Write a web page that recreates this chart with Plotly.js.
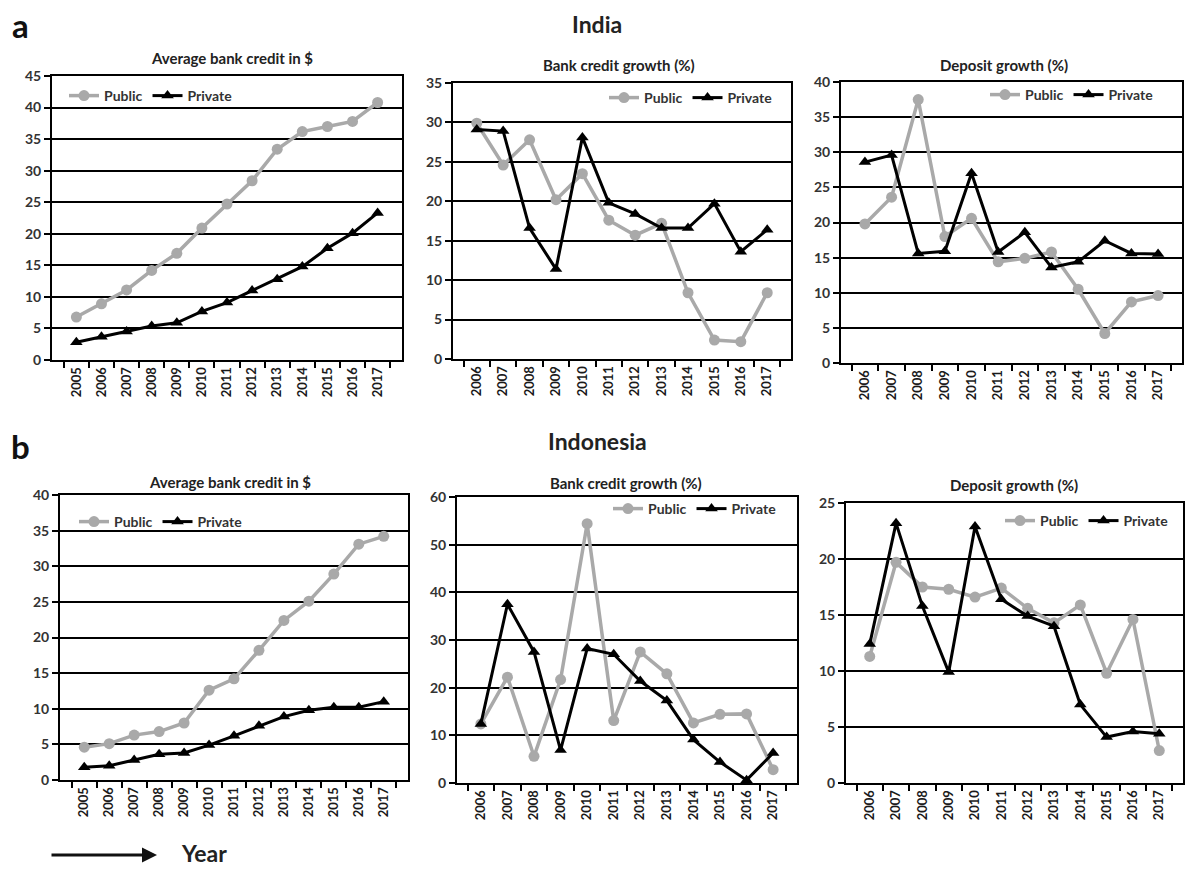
<!DOCTYPE html>
<html>
<head>
<meta charset="utf-8">
<script src="https://cdn.plot.ly/plotly-3.0.1.min.js"></script>
<style>html,body{margin:0;padding:0;background:#fff;}#chart{width:1185px;height:870px;}</style>
</head>
<body>
<div id="chart"></div>
<script>
// ---- Data ----
var yearsA = ['2005','2006','2007','2008','2009','2010','2011','2012','2013','2014','2015','2016','2017'];
var yearsB = ['2006','2007','2008','2009','2010','2011','2012','2013','2014','2015','2016','2017'];

// India
var indiaCreditPublic  = [6.8, 8.9, 11.1, 14.2, 16.9, 20.9, 24.7, 28.4, 33.4, 36.2, 37.0, 37.8, 40.8];
var indiaCreditPrivate = [2.8, 3.7, 4.5, 5.4, 5.9, 7.7, 9.1, 11.0, 12.8, 14.8, 17.7, 20.1, 23.3];
var indiaGrowthPublic  = [29.9, 24.6, 27.8, 20.2, 23.5, 17.6, 15.7, 17.2, 8.4, 2.4, 2.2, 8.4];
var indiaGrowthPrivate = [29.1, 28.9, 16.6, 11.4, 28.1, 19.8, 18.4, 16.6, 16.6, 19.7, 13.6, 16.4];
var indiaDepositPublic  = [19.8, 23.6, 37.5, 18.0, 20.6, 14.4, 14.9, 15.8, 10.5, 4.2, 8.7, 9.6];
var indiaDepositPrivate = [28.6, 29.6, 15.6, 15.9, 27.0, 15.8, 18.6, 13.6, 14.4, 17.4, 15.6, 15.5];

// Indonesia
var indoCreditPublic  = [4.6, 5.1, 6.3, 6.8, 8.0, 12.6, 14.2, 18.2, 22.4, 25.1, 28.9, 33.1, 34.2];
var indoCreditPrivate = [1.8, 2.0, 2.8, 3.6, 3.8, 4.9, 6.2, 7.6, 8.9, 9.8, 10.2, 10.2, 11.0];
var indoGrowthPublic  = [12.4, 22.2, 5.6, 21.7, 54.4, 13.1, 27.5, 22.9, 12.6, 14.4, 14.5, 2.8];
var indoGrowthPrivate = [12.4, 37.5, 27.5, 6.9, 28.2, 27.0, 21.4, 17.3, 9.1, 4.4, 0.6, 6.3];
var indoDepositPublic  = [11.3, 19.7, 17.5, 17.3, 16.6, 17.4, 15.6, 14.3, 15.9, 9.8, 14.6, 2.9];
var indoDepositPrivate = [12.4, 23.2, 15.8, 9.9, 22.9, 16.4, 14.9, 14.0, 7.0, 4.1, 4.6, 4.4];

var panelTitles = ['Average bank credit in $', 'Bank credit growth (%)', 'Deposit growth (%)',
                   'Average bank credit in $', 'Bank credit growth (%)', 'Deposit growth (%)'];
var seriesNames = ['Public', 'Private'];

// ---- Layout helpers ----
var W = 1185, H = 870;
function px(x){ return x / W; }
function py(y){ return 1 - y / H; }

var FONT = 'Lato, "Open Sans", sans-serif';
var GRAY = '#a9a9a9';

var panels = [
  {x: yearsA, pub: indiaCreditPublic,  pri: indiaCreditPrivate,  box:[52,402,76,360],  ymax:45, dtick:5,  leg:[64,96]},
  {x: yearsB, pub: indiaGrowthPublic,  pri: indiaGrowthPrivate,  box:[453,791,83,359], ymax:35, dtick:5,  leg:[604,98]},
  {x: yearsB, pub: indiaDepositPublic, pri: indiaDepositPrivate, box:[841,1182,82,363],ymax:40, dtick:5,  leg:[985,95]},
  {x: yearsA, pub: indoCreditPublic,   pri: indoCreditPrivate,   box:[60,408,495,780], ymax:40, dtick:5,  leg:[74,522]},
  {x: yearsB, pub: indoGrowthPublic,   pri: indoGrowthPrivate,   box:[457,797,497,783],ymax:60, dtick:10, leg:[608,509]},
  {x: yearsB, pub: indoDepositPublic,  pri: indoDepositPrivate,  box:[846,1183,503,783],ymax:25, dtick:5, leg:[1000,521]}
];
var titlePos = [[232,58],[619,65],[1004,65],[230,482],[626,483],[1014,485]];

var data = [];
var layout = {
  width: W, height: H,
  margin: {l:0, r:0, t:0, b:0},
  paper_bgcolor: '#ffffff',
  plot_bgcolor: '#ffffff',
  font: {family: FONT, color: '#333333', size: 14, weight: 700},
  annotations: [],
  shapes: []
};

panels.forEach(function(p, i){
  var n = i + 1;
  var xa = 'x' + (n === 1 ? '' : n), ya = 'y' + (n === 1 ? '' : n);
  var legName = 'legend' + (n === 1 ? '' : n);
  data.push({
    type: 'scatter', mode: 'lines+markers', name: seriesNames[0],
    x: p.x, y: p.pub, xaxis: xa, yaxis: ya, legend: legName,
    line: {color: GRAY, width: 3.5},
    marker: {symbol: 'circle', size: 11, color: GRAY}
  });
  data.push({
    type: 'scatter', mode: 'lines+markers', name: seriesNames[1],
    x: p.x, y: p.pri, xaxis: xa, yaxis: ya, legend: legName,
    line: {color: '#000000', width: 3},
    marker: {symbol: 'triangle-up', size: 11, color: '#000000'}
  });
  layout['xaxis' + (n === 1 ? '' : n)] = {
    domain: [px(p.box[0]), px(p.box[1])],
    anchor: ya, type: 'category',
    showline: true, linecolor: '#000', linewidth: 2, mirror: true,
    ticks: 'outside', ticklen: 6, tickwidth: 2, tickcolor: '#000', tickson: 'boundaries',
    tickangle: -90, showgrid: false, zeroline: false,
    tickfont: {family: FONT, size: 13, color: '#1a1a1a', weight: 700}
  };
  layout['yaxis' + (n === 1 ? '' : n)] = {
    domain: [py(p.box[3]), py(p.box[2])],
    anchor: xa, range: [0, p.ymax], dtick: p.dtick, tick0: 0,
    showline: true, linecolor: '#000', linewidth: 2, mirror: true,
    ticks: 'outside', ticklen: 6, tickwidth: 2, tickcolor: '#000',
    showgrid: true, gridcolor: '#000', gridwidth: 2, zeroline: false,
    tickfont: {family: FONT, size: 14, color: '#333', weight: 700}
  };
  layout[legName] = {
    orientation: 'h', x: px(p.leg[0]), y: py(p.leg[1]), xanchor: 'left', yanchor: 'middle',
    bgcolor: 'rgba(0,0,0,0)', borderwidth: 0,
    font: {family: FONT, size: 14, color: '#333', weight: 700},
    itemwidth: 30, tracegroupgap: 0
  };
  layout.annotations.push({
    text: panelTitles[i], xref: 'paper', yref: 'paper',
    x: px(titlePos[i][0]), y: py(titlePos[i][1]), xanchor: 'center', yanchor: 'middle',
    showarrow: false, font: {family: FONT, size: 15, color: '#222', weight: 700}
  });
});

// Section headers
layout.annotations.push(
  {text: 'India', xref:'paper', yref:'paper', x: px(597), y: py(24), xanchor:'center', yanchor:'middle',
   showarrow:false, font:{family:FONT, size:23, color:'#222', weight:700}},
  {text: 'Indonesia', xref:'paper', yref:'paper', x: px(597), y: py(441), xanchor:'center', yanchor:'middle',
   showarrow:false, font:{family:FONT, size:23, color:'#222', weight:700}},
  {text: 'a', xref:'paper', yref:'paper', x: px(20), y: py(25), xanchor:'center', yanchor:'middle',
   showarrow:false, font:{family:FONT, size:33, color:'#111', weight:700}},
  {text: 'b', xref:'paper', yref:'paper', x: px(20), y: py(446), xanchor:'center', yanchor:'middle',
   showarrow:false, font:{family:FONT, size:33, color:'#111', weight:700}},
  {text: 'Year', xref:'paper', yref:'paper', x: px(179), y: py(853), xanchor:'left', yanchor:'middle',
   showarrow:false, font:{family:FONT, size:23, color:'#222', weight:700}},
  {text: '', xref:'paper', yref:'paper', x: px(157), y: py(855), axref:'pixel', ayref:'pixel',
   ax: -107, ay: 0, showarrow: true, arrowhead: 2, arrowsize: 1, arrowwidth: 3, arrowcolor: '#111'}
);

Plotly.newPlot('chart', data, layout, {displayModeBar: false, staticPlot: true});
</script>
</body>
</html>
